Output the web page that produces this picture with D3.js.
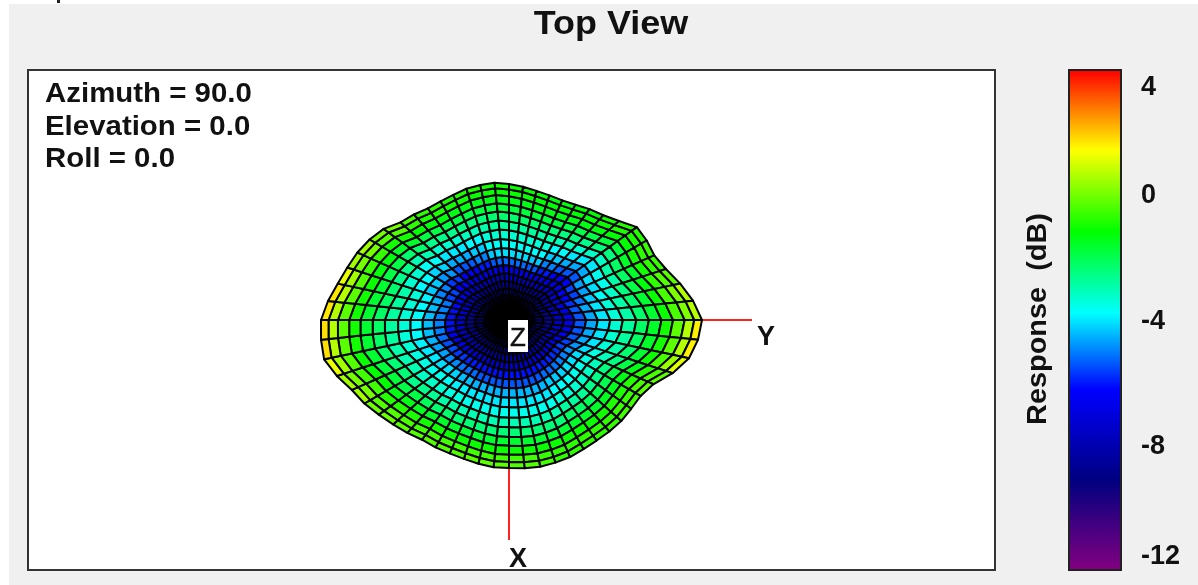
<!DOCTYPE html>
<html>
<head>
<meta charset="utf-8">
<script src="https://cdn.jsdelivr.net/npm/d3@7"></script>
<style>
  html, body { margin: 0; padding: 0; background: #fff; }
  svg { display: block; filter: blur(0.4px); }
  text { font-family: "Liberation Sans", Arial, sans-serif; fill: #111; white-space: pre; }
</style>
</head>
<body>
<div id="chart"></div>
<script>
// outer edge of the balloon, every 6 degrees, clockwise starting at +Y
const edgeRadius = [
  193,190,184,172,158,152,151,151,150,149,149,150,150,150,149,
  148,148,147,146,146,147,148,152,156,161,167,172,181,189,189,
  188,182,175,170,166,161,155,146,142,138,137,137,138,138,138,
  136,134,132,131,131,133,137,141,148,158,159,159,165,175,185
];

// where each ring sits, as a share of the edge radius
const ringShare = [.04,.085,.13,.18,.23,.285,.34,.40,.46,.525,.59,.66,.725,.79,.85,.91,.96,1];

// response in dB, one row per ring (centre outwards), every 10 degrees
const ring01 = [-10.3,-10.3,-10.4,-10.4,-10.4,-10.5,-10.5,-10.5,-10.5,-10.5,-10.5,-10.5,-10.5,-10.4,-10.4,-10.4,-10.3,-10.3,-10.3,-10.3,-10.3,-10.4,-10.5,-10.5,-10.5,-10.5,-10.5,-10.5,-10.5,-10.5,-10.5,-10.5,-10.5,-10.4,-10.3,-10.3];
const ring02 = [-9.8,-9.8,-9.9,-10,-10,-10.1,-10.1,-10.1,-10.1,-10.1,-10.1,-10.1,-10.1,-10,-10,-9.9,-9.8,-9.8,-9.8,-9.8,-9.8,-10,-10.2,-10.2,-10.2,-10.2,-10.1,-10.1,-10.1,-10.1,-10.2,-10.2,-10.2,-10,-9.9,-9.8];
const ring03 = [-9.3,-9.3,-9.4,-9.6,-9.6,-9.7,-9.8,-9.8,-9.8,-9.8,-9.8,-9.8,-9.8,-9.7,-9.6,-9.5,-9.4,-9.3,-9.3,-9.3,-9.4,-9.6,-9.9,-9.9,-9.9,-9.8,-9.8,-9.8,-9.8,-9.8,-9.9,-9.9,-9.9,-9.6,-9.4,-9.3];
const ring04 = [-8.7,-8.7,-8.9,-9.1,-9.1,-9.2,-9.3,-9.3,-9.3,-9.3,-9.3,-9.3,-9.3,-9.2,-9.1,-9,-8.9,-8.7,-8.7,-8.7,-8.9,-9.2,-9.5,-9.5,-9.5,-9.4,-9.4,-9.4,-9.4,-9.4,-9.5,-9.5,-9.5,-9.2,-8.9,-8.7];
const ring05 = [-8,-8,-8.2,-8.4,-8.5,-8.6,-8.8,-8.8,-8.8,-8.8,-8.8,-8.8,-8.7,-8.6,-8.4,-8.3,-8.1,-8,-8,-8,-8.2,-8.6,-9,-9,-9,-8.9,-8.9,-8.9,-8.9,-8.9,-9,-9,-9,-8.6,-8.2,-8];
const ring06 = [-7.4,-7.4,-7.6,-7.8,-7.9,-8,-8.2,-8.2,-8.2,-8.2,-8.2,-8.2,-8.1,-8,-7.8,-7.7,-7.5,-7.3,-7.3,-7.3,-7.6,-8,-8.4,-8.4,-8.4,-8.3,-8.3,-8.3,-8.3,-8.3,-8.4,-8.4,-8.4,-8,-7.6,-7.4];
const ring07 = [-6.4,-6.4,-6.7,-6.9,-7,-7.1,-7.3,-7.3,-7.3,-7.3,-7.3,-7.3,-7.2,-7.1,-6.9,-6.7,-6.4,-6.1,-6.1,-6.2,-6.6,-7.1,-7.6,-7.6,-7.6,-7.4,-7.4,-7.4,-7.4,-7.4,-7.6,-7.6,-7.6,-7.1,-6.7,-6.4];
const ring08 = [-5.4,-5.4,-5.6,-5.8,-5.9,-6,-6.1,-6.1,-6.1,-6.1,-6.1,-6.1,-6,-5.9,-5.7,-5.5,-5.2,-5,-5,-5.1,-5.6,-6.3,-7,-7,-6.9,-6.6,-6.5,-6.5,-6.5,-6.6,-6.9,-7,-7,-6.3,-5.8,-5.4];
const ring09 = [-4.6,-4.6,-4.8,-5,-5.1,-5.2,-5.4,-5.4,-5.4,-5.4,-5.4,-5.4,-5.2,-5.1,-4.9,-4.7,-4.5,-4.4,-4.4,-4.5,-5,-5.7,-6.4,-6.4,-6,-5.4,-5.2,-5.2,-5.2,-5.4,-6,-6.4,-6.4,-5.6,-5.1,-4.6];
const ring10 = [-4,-4,-4.1,-4.1,-4.2,-4.3,-4.5,-4.5,-4.5,-4.5,-4.5,-4.5,-4.4,-4.2,-4.1,-4,-3.9,-3.8,-3.8,-3.9,-4.3,-4.8,-5.4,-5.4,-5,-4.3,-4.1,-4.1,-4.1,-4.3,-5,-5.4,-5.4,-4.7,-4.3,-4];
const ring11 = [-3.3,-3.4,-3.5,-3.6,-3.7,-3.8,-4,-4,-4,-4,-4,-4,-3.9,-3.7,-3.6,-3.5,-3.4,-3.4,-3.4,-3.4,-3.8,-4.2,-4.6,-4.6,-4.3,-3.8,-3.7,-3.7,-3.7,-3.8,-4.3,-4.6,-4.6,-4.1,-3.7,-3.4];
const ring12 = [-2.8,-2.9,-3.1,-3.2,-3.3,-3.4,-3.6,-3.6,-3.6,-3.6,-3.6,-3.6,-3.5,-3.3,-3.2,-3,-2.9,-2.8,-2.8,-2.9,-3.3,-3.7,-4,-4,-3.8,-3.4,-3.3,-3.3,-3.3,-3.4,-3.8,-4,-4,-3.6,-3.2,-2.9];
const ring13 = [-2.2,-2.3,-2.5,-2.6,-2.7,-2.8,-3,-3,-3,-3,-3,-3,-2.9,-2.7,-2.6,-2.4,-2.3,-2.2,-2.2,-2.3,-2.6,-3,-3.3,-3.3,-3.1,-2.9,-2.8,-2.8,-2.8,-2.9,-3.1,-3.3,-3.2,-2.9,-2.5,-2.3];
const ring14 = [-1.6,-1.7,-1.9,-2,-2.1,-2.2,-2.4,-2.4,-2.4,-2.4,-2.4,-2.4,-2.3,-2.1,-1.9,-1.8,-1.7,-1.7,-1.7,-1.7,-1.9,-2.3,-2.6,-2.6,-2.5,-2.4,-2.3,-2.3,-2.3,-2.4,-2.5,-2.6,-2.5,-2.2,-1.9,-1.7];
const ring15 = [-1,-1.1,-1.4,-1.5,-1.6,-1.6,-1.7,-1.7,-1.7,-1.7,-1.7,-1.7,-1.6,-1.5,-1.4,-1.2,-1.1,-1,-1,-1.1,-1.3,-1.6,-1.9,-1.9,-1.9,-1.8,-1.8,-1.8,-1.8,-1.8,-1.9,-1.9,-1.8,-1.6,-1.3,-1.1];
const ring16 = [-.2,-.4,-.8,-.9,-1,-1.1,-1.1,-1.1,-1.1,-1.1,-1.1,-1.1,-1,-.9,-.8,-.5,-.3,-.2,-.2,-.3,-.6,-1,-1.2,-1.3,-1.4,-1.4,-1.4,-1.4,-1.4,-1.4,-1.4,-1.3,-1.2,-1,-.7,-.4];
const ring17 = [.8,.5,-.4,-.6,-.7,-.7,-.7,-.6,-.5,-.5,-.5,-.5,-.5,-.4,-.3,.1,.6,.8,.8,.6,.1,-.3,-.7,-.9,-1,-1.1,-1.1,-1.1,-1.2,-1.2,-1.2,-1.1,-.9,-.7,-.3,.2];
const ring18 = [1.8,1.3,-.2,-.5,-.6,-.7,-.7,-.5,-.3,-.2,-.2,-.3,-.3,-.2,0,.6,1.4,2,1.9,1.4,.6,.1,-.4,-.7,-.9,-.9,-1,-1.1,-1.2,-1.3,-1.2,-1,-.8,-.6,-.2,.8];
const response = [ring01,ring02,ring03,ring04,ring05,ring06,ring07,ring08,ring09,ring10,ring11,ring12,ring13,ring14,ring15,ring16,ring17,ring18];

// colour bar
const barTicks = [-12,-8,-4,0,4];
const colorDb = [-12.5,-9.27,-6.24,-3.78,-1.2,1.63,4.6];
const colorHex = ["#800080","#000080","#0000ff","#00ffff","#00ff00","#ffff00","#ff0000"];

const infoLines = ["Azimuth = 90.0","Elevation = 0.0","Roll = 0.0"];

const width = 1198, height = 585;
const cx = 509, cy = 320;

const svg = d3.select("#chart").append("svg")
  .attr("width", width).attr("height", height);

// window background
svg.append("rect").attr("x", 9).attr("y", 4).attr("width", width - 9).attr("height", height - 4).attr("fill", "#f0f0f0");
svg.append("rect").attr("x", 57).attr("y", 0).attr("width", 3).attr("height", 3).attr("fill", "#222");

svg.append("text").attr("transform", "translate(611,34) scale(1.09,1)").attr("text-anchor", "middle")
  .style("font-size", "33px").style("font-weight", "bold").text("Top View");

// plot frame
svg.append("rect").attr("x", 28).attr("y", 70).attr("width", 967).attr("height", 500)
  .attr("fill", "#fff").attr("stroke", "#333").attr("stroke-width", 2);

svg.selectAll("text.info").data(infoLines).enter().append("text")
  .attr("class", "info").attr("transform", (d, i) => `translate(45,${102 + i * 32.5}) scale(1.09,1)`)
  .style("font-size", "27px").style("font-weight", "bold").text(d => d);

// axes sit behind the surface
svg.append("line").attr("x1", cx).attr("y1", cy).attr("x2", cx).attr("y2", 540).attr("stroke", "#f22").attr("stroke-width", 2);
svg.append("line").attr("x1", cx).attr("y1", cy).attr("x2", 752).attr("y2", cy).attr("stroke", "#f22").attr("stroke-width", 2);

const color = d3.scaleLinear().domain(colorDb).range(colorHex).interpolate(d3.interpolateRgb);
const radius = d3.scaleLinear().domain([0, 200]).range([0, 200]);
const angle = d3.scaleLinear().domain([0, edgeRadius.length]).range([0, 2 * Math.PI]);
const column = d3.scaleQuantize().domain([0, edgeRadius.length]).range(d3.range(ring01.length));

const point = (ring, sector) => {
  const s = sector % edgeRadius.length;
  const r = ring < 0 ? 0 : radius(edgeRadius[s]) * ringShare[ring];
  const a = angle(s);
  return [cx + r * Math.cos(a), cy + r * Math.sin(a)];
};

const cells = [];
response.forEach((row, i) => {
  edgeRadius.forEach((_, j) => {
    cells.push({ ring: i, sector: j, db: row[column(j + .5)] });
  });
});

const mesh = svg.append("g");
mesh.selectAll("path").data(cells).enter().append("path")
  .attr("d", d => {
    const p = d3.path();
    const a = point(d.ring - 1, d.sector), b = point(d.ring - 1, d.sector + 1);
    const c = point(d.ring, d.sector + 1), e = point(d.ring, d.sector);
    p.moveTo(a[0], a[1]); p.lineTo(b[0], b[1]); p.lineTo(c[0], c[1]); p.lineTo(e[0], e[1]); p.closePath();
    return p.toString();
  })
  .attr("fill", d => color(d.db))
  .attr("stroke", "#000").attr("stroke-width", 2).attr("stroke-linejoin", "round");

// axis labels
svg.append("rect").attr("x", 508).attr("y", 320).attr("width", 20).attr("height", 32).attr("fill", "#fff");
svg.append("text").attr("x", 518).attr("y", 346).attr("text-anchor", "middle").style("font-size", "26px").style("stroke", "#111").style("stroke-width", .4).text("Z");
svg.append("text").attr("x", 766).attr("y", 345).attr("text-anchor", "middle").style("font-size", "27px").style("font-weight", "bold").text("Y");
svg.append("text").attr("x", 518).attr("y", 567).attr("text-anchor", "middle").style("font-size", "27px").style("font-weight", "bold").text("X");

// colour bar
const barY = d3.scaleLinear().domain(barTicks).range([555, 445, 320, 194, 86]);
const barTop = 70, barBottom = 570;
const defs = svg.append("defs");
const grad = defs.append("linearGradient").attr("id", "bar").attr("gradientUnits", "userSpaceOnUse")
  .attr("x1", 0).attr("x2", 0).attr("y1", barBottom).attr("y2", barTop);
grad.selectAll("stop").data(colorDb).enter().append("stop")
  .attr("offset", d => (barBottom - barY(d)) / (barBottom - barTop))
  .attr("stop-color", (d, i) => colorHex[i]);
svg.append("rect").attr("x", 1069).attr("y", barTop).attr("width", 52).attr("height", barBottom - barTop)
  .attr("fill", "url(#bar)").attr("stroke", "#222").attr("stroke-width", 2);

const barAxis = svg.append("g").attr("transform", "translate(1138,0)")
  .call(d3.axisRight(barY).tickValues(barTicks).tickSize(0).tickFormat(d3.format("d")));
barAxis.select(".domain").remove();
barAxis.selectAll("text")
  .style("font-family", '"Liberation Sans", Arial, sans-serif')
  .style("font-size", "27px").style("font-weight", "bold")
  .text(d => String(d));

svg.append("text").attr("transform", "translate(1046,319) rotate(-90) scale(1.07,1)").attr("text-anchor", "middle")
  .style("font-size", "27px").style("font-weight", "bold").text("Response  (dB)");
</script>
</body>
</html>
